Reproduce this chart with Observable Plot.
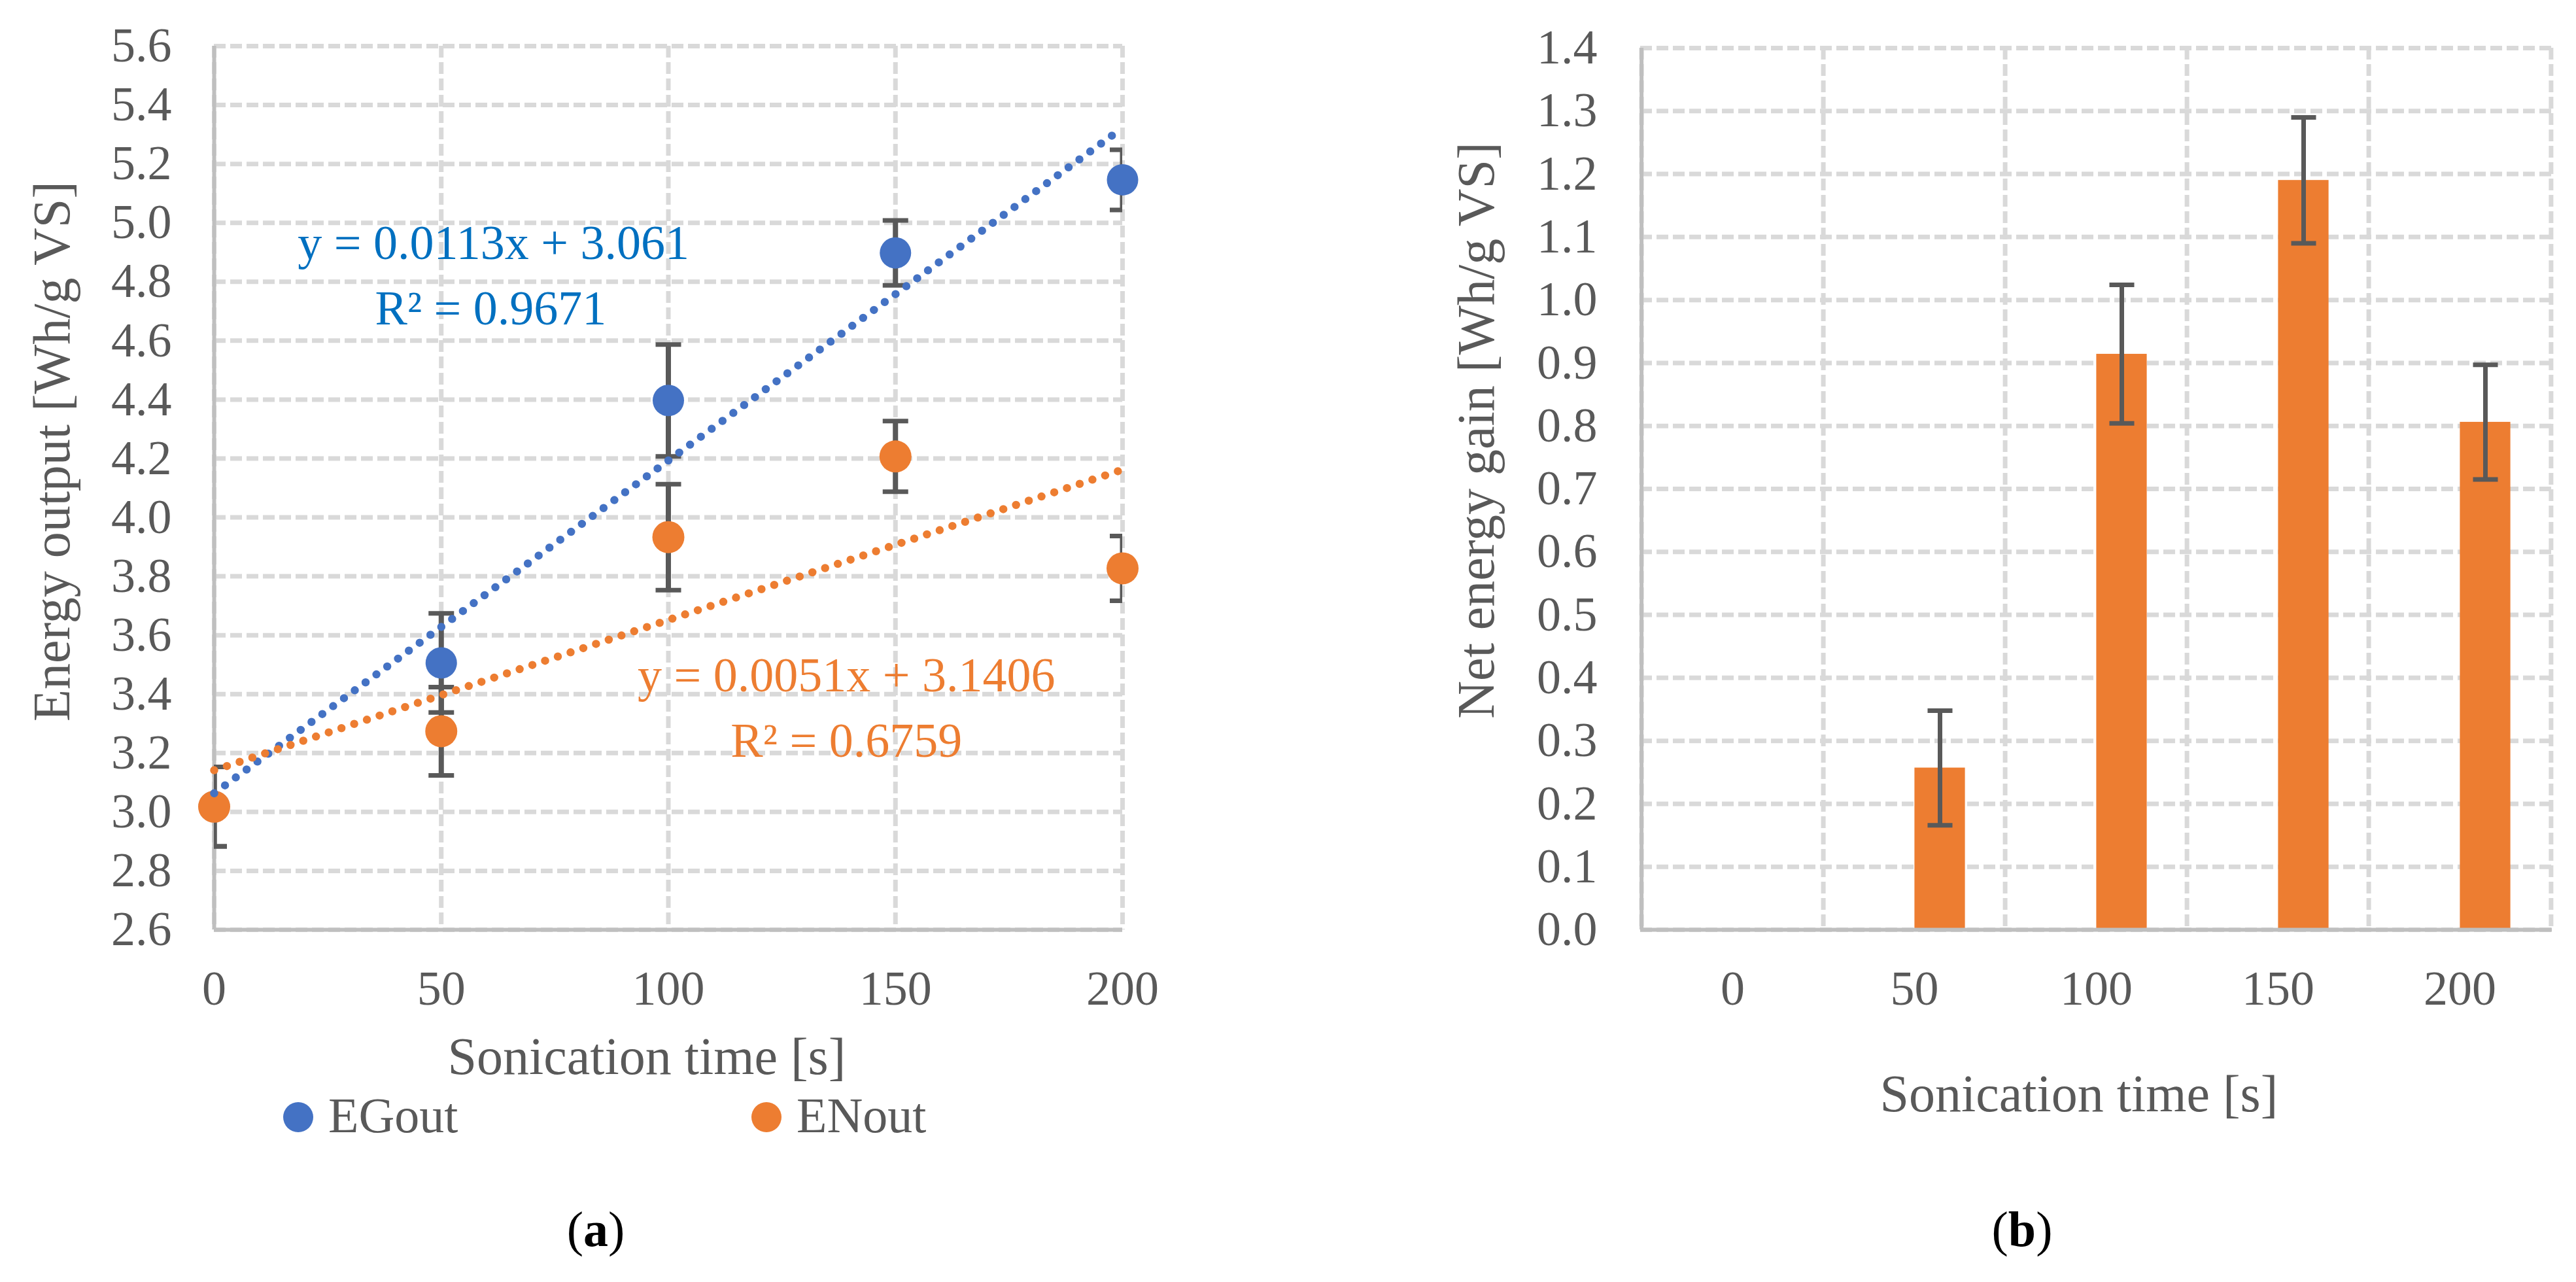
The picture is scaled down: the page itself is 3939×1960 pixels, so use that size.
<!DOCTYPE html>
<html>
<head>
<meta charset="utf-8">
<script src="https://cdn.jsdelivr.net/npm/d3@7"></script>
<script src="https://cdn.jsdelivr.net/npm/@observablehq/plot@0.6"></script>
<style>
  html, body { margin: 0; padding: 0; background: #fff; }
  #root { position: relative; width: 3939px; height: 1960px; background: #fff; overflow: hidden;
          font-family: 'Liberation Serif', 'Times New Roman', serif; color: #595959; }
  .abs { position: absolute; white-space: nowrap; line-height: 1; transform: translate(-50%, -50%); }
  .rot { transform: translate(-50%, -50%) rotate(-90deg); }
  .leg { position: absolute; white-space: nowrap; line-height: 1; transform: translate(0, -50%); font-size: 76px; }
  .mk { position: absolute; width: 46px; height: 46px; border-radius: 50%; transform: translate(-50%, -50%); }
</style>
</head>
<body>
<div id="root">
  <div id="left" style="position:absolute;left:0;top:0"></div>
  <div id="right" style="position:absolute;left:1969px;top:0"></div>
</div>
<script>
// ---------- data ----------
const sonicationTime = [0, 50, 100, 150, 200];
const egOut = [3.018, 3.506, 4.397, 4.898, 5.146];
const egErr = [0.135, 0.168, 0.19, 0.11, 0.102];
const enOut = [3.018, 3.274, 3.933, 4.207, 3.827];
const enErr = [0.135, 0.15, 0.18, 0.12, 0.11];
const yTicksA = [2.6, 2.8, 3.0, 3.2, 3.4, 3.6, 3.8, 4.0, 4.2, 4.4, 4.6, 4.8, 5.0, 5.2, 5.4, 5.6];

const eqText = ["y = 0.0113x + 3.061", "R\u00B2 = 0.9671", "y = 0.0051x + 3.1406", "R\u00B2 = 0.6759"];
const eqSeries = ["EGout", "EGout", "ENout", "ENout"];
const eqX = [61.5, 60.9, 139.2, 139.2];
const eqY = [4.929, 4.707, 3.461, 3.239];

const categories = ["0", "50", "100", "150", "200"];
const netGain = [0, 0.257, 0.914, 1.19, 0.806];
const netGainErr = [0, 0.091, 0.11, 0.10, 0.091];
const yTicksB = [0, 0.1, 0.2, 0.3, 0.4, 0.5, 0.6, 0.7, 0.8, 0.9, 1.0, 1.1, 1.2, 1.3, 1.4];

// ---------- styles ----------
const BLUE = "#4472C4", ORANGE = "#ED7D31", ERR = "#595959";
const GRID = {stroke: "#D9D9D9", strokeWidth: 7, strokeDasharray: "18,7"};
const AXIS = {stroke: "#BFBFBF", strokeWidth: 6};
const capSymbol = {draw(ctx, size) { const r = Math.sqrt(size / Math.PI); ctx.moveTo(-r, 0); ctx.lineTo(r, 0); }};
const FONT = "'Liberation Serif', 'Times New Roman', serif";

// ---------- tables ----------
const eg = sonicationTime.map((t, i) => ({t, v: egOut[i], lo: egOut[i] - egErr[i], hi: egOut[i] + egErr[i]}));
const en = sonicationTime.map((t, i) => ({t, v: enOut[i], lo: enOut[i] - enErr[i], hi: enOut[i] + enErr[i]}));
const both = [...eg, ...en];
const notes = eqText.map((s, i) => ({s, series: eqSeries[i], x: eqX[i], y: eqY[i]}));
const bars = categories.map((c, i) => ({c, v: netGain[i], lo: netGain[i] - netGainErr[i], hi: netGain[i] + netGainErr[i], e: netGainErr[i]}));
const errBars = bars.filter(d => d.e > 0);

// ---------- left chart ----------
const left = Plot.plot({
  width: 1969, height: 1960,
  marginTop: 70, marginLeft: 327, marginRight: 253, marginBottom: 539,
  style: {fontFamily: FONT, fontSize: "74px", color: "#595959", background: "white", overflow: "visible"},
  x: {domain: [0, 200], ticks: sonicationTime, tickSize: 0, tickPadding: 62, label: null},
  y: {domain: [2.6, 5.6], ticks: yTicksA, tickFormat: d => d.toFixed(1), tickSize: 0, tickPadding: 65, label: null},
  marks: [
    Plot.ruleY(yTicksA, GRID),
    Plot.ruleX(sonicationTime, GRID),
    Plot.ruleX([0], AXIS),
    Plot.ruleY([2.6], AXIS),
    Plot.ruleX(both, {x: "t", y1: "lo", y2: "hi", stroke: ERR, strokeWidth: 8, clip: true}),
    Plot.dot(both, {x: "t", y: "hi", symbol: capSymbol, r: 19.5, fill: "none", stroke: ERR, strokeWidth: 7, clip: true}),
    Plot.dot(both, {x: "t", y: "lo", symbol: capSymbol, r: 19.5, fill: "none", stroke: ERR, strokeWidth: 7, clip: true}),
    Plot.dot(eg, {x: "t", y: "v", r: 24, fill: BLUE, stroke: "none"}),
    Plot.dot(en, {x: "t", y: "v", r: 24.5, fill: ORANGE, stroke: "none"}),
    Plot.linearRegressionY(eg, {x: "t", y: "v", ci: 0, stroke: BLUE, strokeWidth: 12.5, strokeDasharray: "0,20.5", strokeLinecap: "round"}),
    Plot.linearRegressionY(en, {x: "t", y: "v", ci: 0, stroke: ORANGE, strokeWidth: 12.5, strokeDasharray: "0,20.5", strokeLinecap: "round"}),
    Plot.text(notes, {x: "x", y: "y", text: "s", fontSize: 74, fontFamily: FONT,
      fill: d => d.series === "EGout" ? "#0070C0" : ORANGE})
  ]
});
document.getElementById("left").appendChild(left);

// ---------- right chart ----------
const BW = 1394 / categories.length; // band width in px
const BARW = 78;
const right = Plot.plot({
  width: 1970, height: 1960,
  marginTop: 73, marginLeft: 539, marginRight: 37, marginBottom: 539,
  style: {fontFamily: FONT, fontSize: "74px", color: "#595959", background: "white", overflow: "visible"},
  x: {type: "band", domain: categories, padding: 0, tickSize: 0, tickPadding: 62, label: null},
  y: {domain: [0, 1.4], ticks: yTicksB, tickFormat: d => d.toFixed(1), tickSize: 0, tickPadding: 66, label: null},
  marks: [
    Plot.ruleY(yTicksB, GRID),
    Plot.ruleX(categories, {x: d => d, dx: -BW / 2, ...GRID}),
    Plot.ruleX(categories.slice(-1), {x: d => d, dx: BW / 2, ...GRID}),
    Plot.barY(bars, {x: "c", y: "v", fill: ORANGE, insetLeft: BW / 2, insetRight: BW / 2 - BARW}),
    Plot.ruleX(errBars, {x: "c", y1: "lo", y2: "hi", dx: BARW / 2, stroke: ERR, strokeWidth: 7}),
    Plot.dot(errBars, {x: "c", y: "hi", dx: BARW / 2, symbol: capSymbol, r: 19, fill: "none", stroke: ERR, strokeWidth: 7}),
    Plot.dot(errBars, {x: "c", y: "lo", dx: BARW / 2, symbol: capSymbol, r: 19, fill: "none", stroke: ERR, strokeWidth: 7}),
    Plot.ruleX(categories.slice(0, 1), {x: d => d, dx: -BW / 2, ...AXIS}),
    Plot.ruleY([0], AXIS)
  ]
});
document.getElementById("right").appendChild(right);

// ---------- text overlays (titles, legend, panel labels) ----------
const root = document.getElementById("root");
function addDiv(cls, html, left, top, extra) {
  const d = document.createElement("div");
  d.className = cls;
  d.innerHTML = html;
  d.style.left = left + "px";
  d.style.top = top + "px";
  Object.assign(d.style, extra || {});
  root.appendChild(d);
  return d;
}
addDiv("abs rot", "Energy output [Wh/g VS]", 79, 690, {fontSize: "80px"});
addDiv("abs rot", "Net energy gain [Wh/g VS]", 2257, 658, {fontSize: "80px"});
addDiv("abs", "Sonication time [s]", 989, 1615, {fontSize: "80px"});
addDiv("abs", "Sonication time [s]", 3179, 1672, {fontSize: "80px"});
addDiv("mk", "", 456, 1708, {background: BLUE});
addDiv("leg", "EGout", 502, 1705);
addDiv("mk", "", 1172, 1708, {background: ORANGE});
addDiv("leg", "ENout", 1218, 1705);
addDiv("abs", "(<b>a</b>)", 911, 1879, {fontSize: "76px", color: "#000"});
addDiv("abs", "(<b>b</b>)", 3092, 1879, {fontSize: "76px", color: "#000"});
</script>
</body>
</html>
